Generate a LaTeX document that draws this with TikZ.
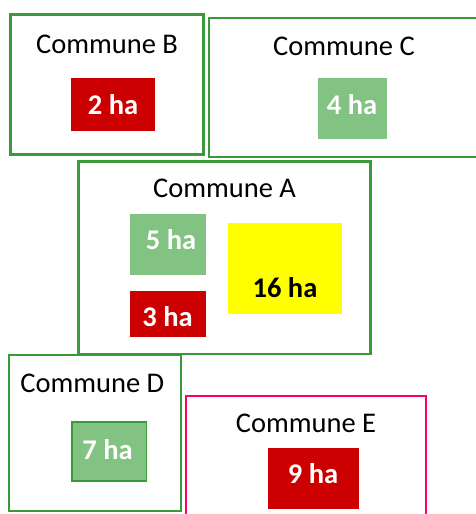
\documentclass[tikz,border=0pt]{standalone}
\usepackage{fontspec}
\setmainfont{Carlito}
\definecolor{cgreen}{RGB}{58,154,58}
\definecolor{cpink}{RGB}{255,0,102}
\definecolor{cred}{RGB}{204,0,0}
\definecolor{clight}{RGB}{130,194,130}
\definecolor{cyellow}{RGB}{255,255,0}
\tikzset{
  commune/.style={draw=cgreen, line width=2.2pt, fill=none, inner sep=0pt, outer sep=0pt},
  patch/.style={draw=none, inner sep=0pt, outer sep=0pt},
  lbl/.style={anchor=base, inner sep=0pt, font=\fontsize{28.5}{30}\selectfont},
  val/.style={anchor=base, inner sep=0pt, font=\fontsize{28.5}{30}\selectfont\bfseries, text=white}
}
\begin{document}
\begin{tikzpicture}[x=1pt,y=-1pt]
\useasboundingbox (0,0) rectangle (476,514);
% communes
\node[commune, line width=3.3pt, minimum width=193pt, minimum height=140pt] (B) at (107,84.5) {};
\node[commune, minimum width=271pt, minimum height=138.7pt] (C) at (344.5,87.35) {};
\node[commune, minimum width=292pt, minimum height=192.5pt] (A) at (224.5,257.75) {};
\node[commune, minimum width=171.7pt, minimum height=155.7pt] (D) at (95.15,433.15) {};
\node[commune, draw=cpink, minimum width=239.7pt, minimum height=134pt] (E) at (305.85,463) {};
% commune labels
\node[lbl] (Bt) at (107,53) {Commune B};
\node[lbl] (Ct) at (344,55) {Commune C};
\node[lbl] (At) at (224.5,197.7) {Commune A};
\node[lbl] (Dt) at (92.3,392.7) {Commune D};
\node[lbl] (Et) at (306,432.7) {Commune E};
% patches
\node[patch, fill=cred, minimum width=84pt, minimum height=52.7pt] (p2) at (113,104.35) {};
\node[patch, fill=clight, minimum width=69pt, minimum height=60.7pt] (p4) at (352.5,108.35) {};
\node[patch, fill=clight, minimum width=76pt, minimum height=61pt] (p5) at (168,244.5) {};
\node[patch, fill=cred, minimum width=76pt, minimum height=46pt] (p3) at (168,314) {};
\node[patch, fill=cyellow, minimum width=114.3pt, minimum height=91pt] (p16) at (284.85,268.5) {};
\node[patch, fill=clight, draw=cgreen, line width=1.5pt, minimum width=74.5pt, minimum height=59pt] (p7) at (109,451.5) {};
\node[patch, fill=cred, minimum width=91pt, minimum height=61pt] (p9) at (313.5,478.5) {};
% values
\node[val] (t2) at (113,114.3) {2 ha};
\node[val] (t4) at (352,114.3) {4 ha};
\node[val] (t5) at (171,249.3) {5 ha};
\node[val] (t3) at (167.5,326) {3 ha};
\node[val, text=black] (t16) at (285,297) {16 ha};
\node[val] (t7) at (107.5,459) {7 ha};
\node[val] (t9) at (313,483.3) {9 ha};
\end{tikzpicture}
\end{document}
